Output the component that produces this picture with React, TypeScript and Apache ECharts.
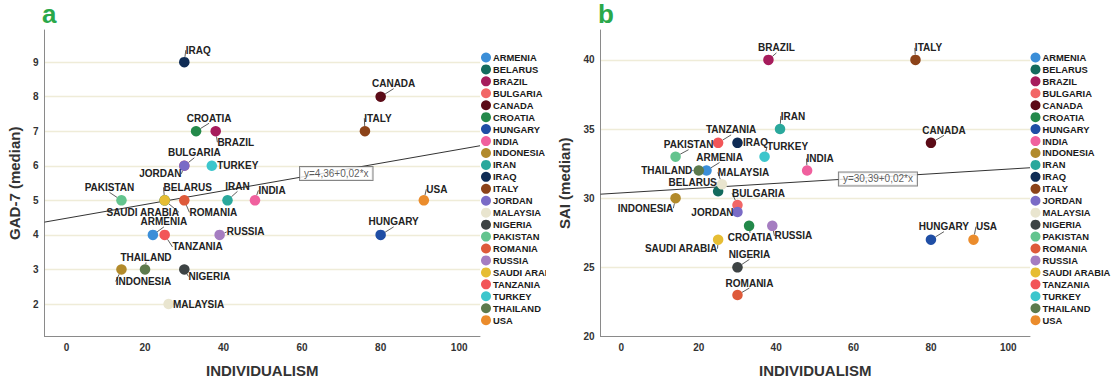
import { useEffect, useRef } from "react";
import * as echarts from "echarts";

// ---------- data ----------
const countries = [
  "ARMENIA", "BELARUS", "BRAZIL", "BULGARIA", "CANADA", "CROATIA", "HUNGARY",
  "INDIA", "INDONESIA", "IRAN", "IRAQ", "ITALY", "JORDAN", "MALAYSIA", "NIGERIA",
  "PAKISTAN", "ROMANIA", "RUSSIA", "SAUDI ARABIA", "TANZANIA", "TURKEY", "THAILAND", "USA",
];
const colors = [
  "#3B8ED8", "#146B5E", "#A61C5C", "#F26666", "#5B0B17", "#23894A", "#1F4EA5",
  "#F0609E", "#B28A2B", "#2AA89C", "#0F2C55", "#8C4319", "#7A6BC6", "#E9E5CF", "#3D4344",
  "#63C48E", "#DE5A3A", "#A57DC1", "#E6BD33", "#F25558", "#3CC6CC", "#5C7A4D", "#EB8C2C",
];
const individualism = [22, 25, 38, 30, 80, 33, 80, 48, 14, 41, 30, 76, 30, 26, 30, 14, 30, 39, 25, 25, 37, 20, 91];
const gad7Median = [4, 5, 7, 6, 8, 7, 4, 5, 3, 5, 9, 7, 6, 2, 3, 5, 5, 4, 5, 4, 6, 3, 5];
const saiMedian = [32, 30.5, 40, 29.5, 34, 28, 27, 32, 30, 35, 34, 40, 29, 31, 25, 33, 23, 28, 27, 34, 33, 32, 27];

const regressionA = [[-5.6, 4.37], [105.3, 6.58]];
const regressionB = [[-5.4, 30.29], [105.6, 32.2]];
const equationA = "y=4,36+0,02*x";
const equationB = "y=30,39+0,02*x";
const equationAnchorA = [68.7, 5.78];
const equationAnchorB = [66.3, 31.39];

// ---------- layout / style ----------
const labelOffsetA: Record<string, number[]> = {
  ARMENIA: [11, -13], BELARUS: [23, -13], BRAZIL: [20, 11], BULGARIA: [10, -13],
  CANADA: [13, -13], CROATIA: [13, -13], HUNGARY: [13, -13], INDIA: [17, -10],
  INDONESIA: [22, 12], IRAN: [10, -14], IRAQ: [14, -12], ITALY: [13, -13],
  JORDAN: [-24, 8], MALAYSIA: [30, 0], NIGERIA: [25, 7], PAKISTAN: [-12, -13],
  ROMANIA: [29, 12], RUSSIA: [26, -3], "SAUDI ARABIA": [-22, 12], TANZANIA: [33, 12],
  TURKEY: [26, 0], THAILAND: [1, -12], USA: [13, -11],
};
const labelOffsetB: Record<string, number[]> = {
  ARMENIA: [13, -13], BELARUS: [-25.5, -9], BRAZIL: [8, -12], BULGARIA: [21, -12],
  CANADA: [13, -12.5], CROATIA: [1, 12], HUNGARY: [13, -13], INDIA: [13, -12],
  INDONESIA: [-30, 10], IRAN: [13, -13], IRAQ: [18, 0], ITALY: [13, -12],
  JORDAN: [-25, 0], MALAYSIA: [21.5, -12], NIGERIA: [12, -13], PAKISTAN: [13, -12],
  ROMANIA: [12, -12], RUSSIA: [21, 10], "SAUDI ARABIA": [-37, 9], TANZANIA: [13, -13],
  TURKEY: [23, -10], THAILAND: [-32, 0], USA: [13, -13],
};

const FONT = "'Liberation Sans', Arial, sans-serif";
const TEXT = "#222";

type Cfg = {
  letter: string;
  yName: string;
  yValues: number[];
  xMin: number; xMax: number;
  yMin: number; yMax: number; ySplit: number;
  gridRight: number;
  legendLeft: number;
  yNameGap: number;
  reg: number[][];
  eq: string;
  eqAnchor: number[];
  offsets: Record<string, number[]>;
};

const intLabel = (v: number) => (Math.abs(v - Math.round(v)) < 1e-6 ? String(Math.round(v)) : "");

function buildOption(c: Cfg): any {
  const scatter = countries.map((name, i) => ({
    type: "scatter",
    name,
    data: [[individualism[i], c.yValues[i]]],
    symbol: "circle",
    symbolSize: 10.5,
    itemStyle: { color: colors[i], opacity: 1 },
    label: {
      show: true,
      position: "inside",
      formatter: name,
      color: TEXT,
      fontSize: 10,
      fontWeight: "bold",
      fontFamily: FONT,
    },
    labelLayout: { dx: c.offsets[name][0], dy: c.offsets[name][1] },
    labelLine: { show: true, lineStyle: { color: "#333", width: 0.8 } },
    emphasis: { disabled: true },
    z: 3,
  }));
  return {
    animation: false,
    backgroundColor: "#fff",
    textStyle: { fontFamily: FONT },
    grid: {
      left: 44.5,
      right: c.gridRight,
      top: 30,
      bottom: 46.5,
      containLabel: false,
      outerBoundsMode: "none",
    },
    graphic: [
      {
        type: "text",
        left: 42,
        top: 1,
        style: { text: c.letter, fontSize: 26, fontWeight: "bold", fill: "#2AA84A", fontFamily: FONT },
      },
    ],
    legend: {
      data: countries,
      orient: "vertical",
      left: c.legendLeft,
      top: 51.5,
      padding: 0,
      icon: "circle",
      itemWidth: 10,
      itemHeight: 10,
      itemGap: 0,
      selectedMode: false,
      textStyle: {
        fontSize: 9.4,
        fontWeight: "bold",
        color: "#1a1a1a",
        fontFamily: FONT,
        lineHeight: 11.94,
        padding: [0, 0, 0, -3],
      },
    },
    xAxis: {
      type: "value",
      min: c.xMin,
      max: c.xMax,
      splitNumber: 5,
      name: "INDIVIDUALISM",
      nameLocation: "middle",
      nameGap: 26,
      nameTextStyle: { fontSize: 15, fontWeight: "bold", color: "#333", fontFamily: FONT },
      axisLine: { onZero: false, lineStyle: { color: "#8a8a8a", width: 1 } },
      axisTick: { show: false },
      splitLine: { show: false },
      axisLabel: { formatter: intLabel, fontSize: 10, fontWeight: "bold", color: "#333", margin: 6, fontFamily: FONT },
    },
    yAxis: {
      type: "value",
      min: c.yMin,
      max: c.yMax,
      splitNumber: c.ySplit,
      name: c.yName,
      nameLocation: "middle",
      nameGap: c.yNameGap,
      nameTextStyle: { fontSize: 15, fontWeight: "bold", color: "#333", fontFamily: FONT },
      axisLine: { show: true, onZero: false, lineStyle: { color: "#8a8a8a", width: 1 } },
      axisTick: { show: false },
      splitLine: {
        show: true,
        showMinLine: false,
        showMaxLine: false,
        lineStyle: { color: "#EFECD8", width: 1.3 },
      },
      axisLabel: { formatter: intLabel, fontSize: 10, fontWeight: "bold", color: "#333", margin: 6, fontFamily: FONT },
    },
    series: [
      {
        type: "line",
        name: "fit",
        data: c.reg,
        symbol: "none",
        lineStyle: { color: "#333", width: 1 },
        silent: true,
        z: 2,
      },
      {
        type: "scatter",
        name: "equation",
        data: [c.eqAnchor],
        symbolSize: 1,
        itemStyle: { color: "transparent" },
        silent: true,
        label: {
          show: true,
          position: "inside",
          formatter: c.eq,
          color: "#333",
          fontSize: 10,
          fontFamily: FONT,
          backgroundColor: "#fff",
          borderColor: "#666",
          borderWidth: 1,
          padding: [2, 4, 1, 4],
        },
        z: 4,
      },
      ...scatter,
    ],
  };
}

export default function App() {
  const refA = useRef<HTMLDivElement>(null);
  const refB = useRef<HTMLDivElement>(null);

  useEffect(() => {
    const a = echarts.init(refA.current!, null, { renderer: "svg" });
    const b = echarts.init(refB.current!, null, { renderer: "svg" });
    a.setOption(
      buildOption({
        letter: "a",
        yName: "GAD-7 (median)",
        yValues: gad7Median,
        xMin: -5.6, xMax: 105.3,
        yMin: 1.06, yMax: 9.93, ySplit: 9,
        gridRight: 66,
        legendLeft: 481,
        yNameGap: 20,
        reg: regressionA,
        eq: equationA,
        eqAnchor: equationAnchorA,
        offsets: labelOffsetA,
      })
    );
    b.setOption(
      buildOption({
        letter: "b",
        yName: "SAI (median)",
        yValues: saiMedian,
        xMin: -5.4, xMax: 105.6,
        yMin: 20, yMax: 42.16, ySplit: 5,
        gridRight: 81,
        legendLeft: 474.5,
        yNameGap: 25.5,
        reg: regressionB,
        eq: equationB,
        eqAnchor: equationAnchorB,
        offsets: labelOffsetB,
      })
    );
    return () => {
      a.dispose();
      b.dispose();
    };
  }, []);

  return (
    <div style={{ position: "absolute", left: 0, top: 0, width: 1111, height: 383, background: "#fff", overflow: "hidden" }}>
      <div ref={refA} style={{ position: "absolute", left: 0, top: 0, width: 546, height: 383 }} />
      <div ref={refB} style={{ position: "absolute", left: 556, top: 0, width: 555, height: 383 }} />
    </div>
  );
}
